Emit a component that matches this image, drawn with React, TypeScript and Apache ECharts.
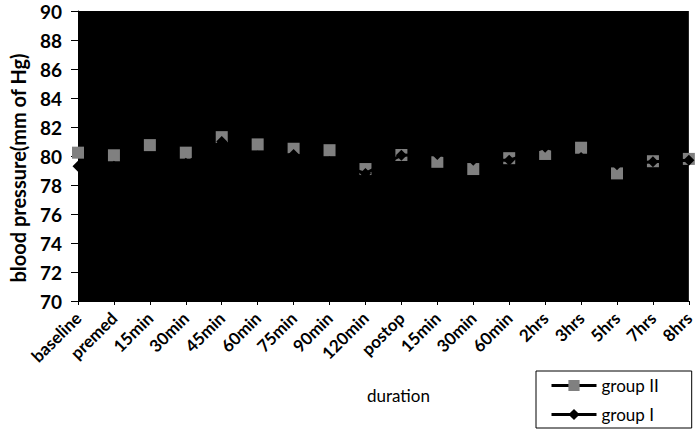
import React, { useEffect, useRef } from "react";
import * as echarts from "echarts";

const categories = ["baseline", "premed", "15min", "30min", "45min", "60min", "75min", "90min", "120min", "postop", "15min", "30min", "60min", "2hrs", "3hrs", "5hrs", "7hrs", "8hrs"];
const groupII = [80.23, 80.05, 80.75, 80.23, 81.3, 80.8, 80.5, 80.4, 79.1, 80.07, 79.6, 79.1, 79.85, 80.14, 80.57, 78.8, 79.64, 79.8];
const groupI = [79.3, 79.3, 79.9, 79.5, 81.0, 80.0, 80.1, 79.6, 78.8, 80.05, 80.1, 79.7, 79.7, 80.6, 79.9, 79.4, 79.6, 79.7];
const yTicks = { min: 70, max: 90, interval: 2 };

const FONT = "Lato, 'Open Sans', sans-serif";

export default function App() {
  const ref = useRef<HTMLDivElement>(null);
  useEffect(() => {
    if (!ref.current) return;
    const chart = echarts.init(ref.current, undefined, { renderer: "svg" });
    chart.setOption({
      animation: false,
      backgroundColor: "#ffffff",
      textStyle: { fontFamily: FONT },
      grid: { left: 65, right: 6, top: 11, bottom: 128, show: true, backgroundColor: "#000000", borderWidth: 0 },
      legend: {
        orient: "vertical",
        left: 536,
        top: 371,
        height: 56,
        padding: [6, 33, 5, 14],
        itemGap: 12,
        itemWidth: 45,
        itemHeight: 14,
        borderColor: "#000000",
        borderWidth: 1,
        lineStyle: { width: 3, color: "#000000" },
        textStyle: { fontFamily: FONT, fontSize: 17, lineHeight: 16, color: "#000000" },
        data: ["group II", "group I"],
      },
      xAxis: {
        type: "category",
        data: categories,
        boundaryGap: false,
        name: "duration",
        nameLocation: "middle",
        nameGap: 86,
        nameTextStyle: { fontFamily: FONT, fontSize: 17, color: "#000000", padding: [0, 0, 0, 30] },
        axisLine: { show: true, lineStyle: { color: "#000000", width: 1 } },
        axisTick: { show: true, length: 4, lineStyle: { color: "#000000" }, interval: 0 },
        axisLabel: { interval: 0, rotate: 45, margin: 14, fontFamily: FONT, fontSize: 17, fontWeight: "bold", color: "#000000" },
        splitLine: { show: false },
      },
      yAxis: {
        type: "value",
        min: yTicks.min,
        max: yTicks.max,
        interval: yTicks.interval,
        name: "blood pressure(mm of Hg)",
        nameLocation: "middle",
        nameGap: 50,
        nameTextStyle: { fontFamily: FONT, fontSize: 20, fontWeight: "bold", color: "#000000", padding: [0, 24, 0, 0] },
        axisLine: { show: true, lineStyle: { color: "#000000", width: 1 } },
        axisTick: { show: true, inside: false, length: 7, lineStyle: { color: "#000000" } },
        axisLabel: { margin: 16, fontFamily: FONT, fontSize: 19, fontWeight: "bold", color: "#000000" },
        splitLine: { show: false },
      },
      series: [
        {
          name: "group II",
          type: "line",
          data: groupII,
          symbol: "rect",
          symbolSize: 12,
          itemStyle: { color: "#808080" },
          lineStyle: { color: "#000000", width: 3 },
          z: 2,
        },
        {
          name: "group I",
          type: "line",
          data: groupI,
          symbol: "diamond",
          symbolSize: 11,
          itemStyle: { color: "#000000" },
          lineStyle: { color: "#000000", width: 3 },
          z: 3,
        },
      ],
    });
    return () => chart.dispose();
  }, []);
  return <div ref={ref} style={{ position: "fixed", left: 0, top: 0, width: 697, height: 429 }} />;
}
